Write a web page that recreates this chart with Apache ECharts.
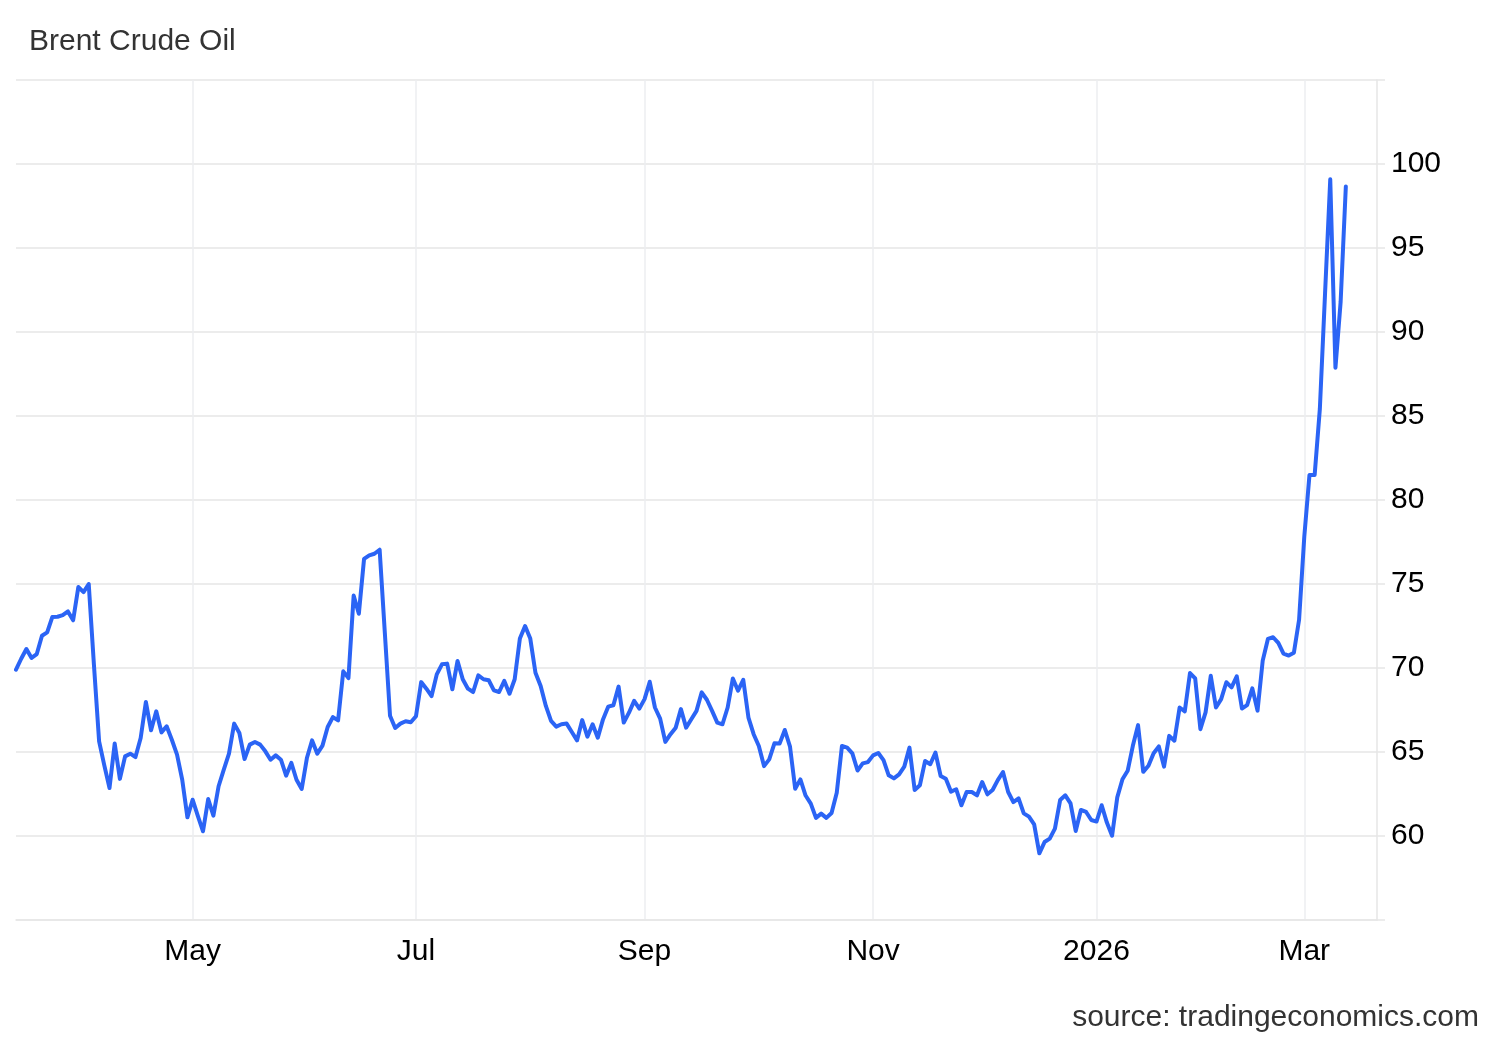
<!DOCTYPE html>
<html>
<head>
<meta charset="utf-8">
<title>Brent Crude Oil</title>
<script src="https://cdn.jsdelivr.net/npm/echarts@6/dist/echarts.min.js"></script>
<style>
  html, body { margin: 0; padding: 0; background: #ffffff; }
  #chart { width: 1500px; height: 1040px; }
</style>
</head>
<body>
<div id="chart"></div>
<script>
// ---- data ----
const chartTitle = 'Brent Crude Oil';
const sourceText = 'source: tradingeconomics.com';

// first trading day shown and days with no quote
const firstDay = '2025-03-13';
const closedDays = ['2025-04-18', '2025-12-25', '2026-01-01', '2026-01-19'];
const emptyDaysAfter = 6;   // empty slots to the right of the last quote

// daily close, USD/bbl
const prices = [
  69.9, 70.55, 71.13, 70.6, 70.83, 71.92, 72.12, 73.04, 73.05, 73.15,
  73.37, 72.84, 74.82, 74.52, 75.0, 70.2, 65.63, 64.2, 62.86, 65.5,
  63.4, 64.74, 64.9, 64.7, 65.83, 67.98, 66.29, 67.42, 66.17, 66.53,
  65.73, 64.84, 63.35, 61.11, 62.16, 61.2, 60.28, 62.2, 61.21, 62.96,
  63.95, 64.9, 66.69, 66.13, 64.58, 65.44, 65.6, 65.44, 65.04, 64.54,
  64.8, 64.54, 63.59, 64.35, 63.35, 62.8, 64.64, 65.69, 64.9, 65.38,
  66.49, 67.08, 66.88, 69.8, 69.4, 74.31, 73.23, 76.49, 76.7, 76.8,
  77.04, 72.1, 67.16, 66.43, 66.69, 66.83, 66.77, 67.13, 69.16, 68.77,
  68.33, 69.62, 70.22, 70.26, 68.73, 70.42, 69.33, 68.77, 68.57, 69.56,
  69.33, 69.27, 68.67, 68.57, 69.23, 68.47, 69.33, 71.75, 72.5, 71.75,
  69.72, 68.93, 67.74, 66.85, 66.51, 66.65, 66.69, 66.19, 65.69, 66.9,
  65.91, 66.65, 65.85, 66.94, 67.7, 67.78, 68.89, 66.75, 67.34, 68.04,
  67.58, 68.15, 69.18, 67.65, 66.99, 65.6, 66.06, 66.45, 67.55, 66.45,
  66.95, 67.45, 68.55, 68.11, 67.45, 66.75, 66.65, 67.65, 69.38, 68.65,
  69.3, 67.05, 66.06, 65.36, 64.16, 64.56, 65.52, 65.5, 66.31, 65.32,
  62.81, 63.37, 62.41, 61.93, 61.08, 61.33, 61.08, 61.37, 62.57, 65.36,
  65.26, 64.92, 63.9, 64.32, 64.4, 64.8, 64.94, 64.52, 63.61, 63.43,
  63.67, 64.13, 65.26, 62.74, 63.02, 64.46, 64.27, 64.96, 63.57, 63.41,
  62.64, 62.78, 61.83, 62.62, 62.62, 62.42, 63.21, 62.48, 62.74, 63.33,
  63.81, 62.62, 62.02, 62.24, 61.35, 61.15, 60.69, 58.97, 59.64, 59.84,
  60.44, 62.14, 62.42, 61.94, 60.3, 61.55, 61.43, 60.95, 60.86, 61.83,
  60.8, 60.02, 62.3, 63.38, 63.88, 65.37, 66.6, 63.82, 64.18, 64.93,
  65.33, 64.13, 65.96, 65.67, 67.65, 67.42, 69.7, 69.38, 66.36, 67.36,
  69.54, 67.65, 68.15, 69.15, 68.85, 69.5, 67.59, 67.79, 68.79, 67.46,
  70.44, 71.73, 71.83, 71.49, 70.85, 70.74, 70.91, 72.87, 77.8, 81.49,
  81.49, 85.43, 92.3, 99.09, 87.87, 91.8, 98.66
];

// axis settings
const yMin = 55, yMax = 105, yStep = 5;
const monthNames = ['Jan','Feb','Mar','Apr','May','Jun','Jul','Aug','Sep','Oct','Nov','Dec'];

// ---- build trading-day categories ----
const DAY = 86400000;
function buildDays(start, count, closed) {
  const out = [];
  let t = Date.parse(start + 'T00:00:00Z');
  while (out.length < count) {
    const d = new Date(t);
    const wd = d.getUTCDay();
    const s = d.toISOString().slice(0, 10);
    if (wd !== 0 && wd !== 6 && closed.indexOf(s) < 0) out.push(s);
    t += DAY;
  }
  return out;
}
const days = buildDays(firstDay, prices.length + emptyDaysAfter, closedDays);
const seriesData = days.map((d, i) => (i < prices.length ? prices[i] : '-'));

// month boundaries on the trading-day scale (every second month, Jan shows the year)
const monthLabelAt = {};
for (let i = 1; i < days.length; i++) {
  const a = new Date(days[i - 1] + 'T00:00:00Z');
  const b = new Date(days[i] + 'T00:00:00Z');
  if (a.getUTCMonth() !== b.getUTCMonth()) {
    const m = b.getUTCMonth();
    if (m % 2 !== 0) continue;
    const ms = Date.UTC(b.getUTCFullYear(), m, 1);
    const pos = (i - 1) + (ms - a.getTime()) / (b.getTime() - a.getTime());
    const idx = Math.round(pos);
    monthLabelAt[idx] = m === 0 ? String(b.getUTCFullYear()) : monthNames[m];
  }
}
const isMonthTick = (index) => Object.prototype.hasOwnProperty.call(monthLabelAt, index);

// ---- chart ----
const FONT = '"Liberation Sans", Arial, Helvetica, sans-serif';
const GRID_COLOR = '#e6e6e6';
const VGRID_COLOR = '#eceef1';
const LINE_COLOR = '#2b64f5';

const chart = echarts.init(document.getElementById('chart'), null, { renderer: 'canvas' });
chart.setOption({
  animation: false,
  backgroundColor: '#ffffff',
  textStyle: { fontFamily: FONT },
  title: [
    {
      text: chartTitle,
      left: 29, top: 27, padding: 0,
      textStyle: { fontFamily: FONT, fontSize: 30, fontWeight: 'normal', color: '#333333' }
    },
    {
      text: sourceText,
      right: 21, top: 1003, padding: 0,
      textStyle: { fontFamily: FONT, fontSize: 30, fontWeight: 'normal', color: '#333333' }
    }
  ],
  grid: { left: 16, right: 123, top: 80, bottom: 120, containLabel: false, outerBoundsMode: 'none' },
  xAxis: {
    type: 'category',
    data: days,
    boundaryGap: false,
    axisLine: { show: true, lineStyle: { color: GRID_COLOR, width: 1.5 } },
    axisTick: { show: false, interval: (i) => isMonthTick(i) },
    axisLabel: {
      interval: (i) => isMonthTick(i),
      formatter: (v, i) => monthLabelAt[i] || '',
      margin: 17,
      fontFamily: FONT, fontSize: 30, color: '#000000'
    },
    splitLine: { show: true, interval: (i) => isMonthTick(i), lineStyle: { color: VGRID_COLOR, width: 1.5 } }
  },
  yAxis: {
    type: 'value',
    position: 'right',
    min: yMin, max: yMax, interval: yStep,
    axisLine: { show: true, lineStyle: { color: GRID_COLOR, width: 1.5 } },
    axisTick: { show: true, inside: false, length: 8, lineStyle: { color: GRID_COLOR, width: 1.5 } },
    axisLabel: {
      margin: 14,
      fontFamily: FONT, fontSize: 30, color: '#000000',
      formatter: (v) => (v <= yMin || v >= yMax ? '' : String(v))
    },
    splitLine: { show: true, lineStyle: { color: GRID_COLOR, width: 1.5 } }
  },
  series: [{
    type: 'line',
    name: chartTitle,
    data: seriesData,
    showSymbol: false,
    smooth: false,
    connectNulls: false,
    lineStyle: { color: LINE_COLOR, width: 4, join: 'round', cap: 'round' },
    itemStyle: { color: LINE_COLOR },
    emphasis: { disabled: true }
  }]
});
</script>
</body>
</html>
